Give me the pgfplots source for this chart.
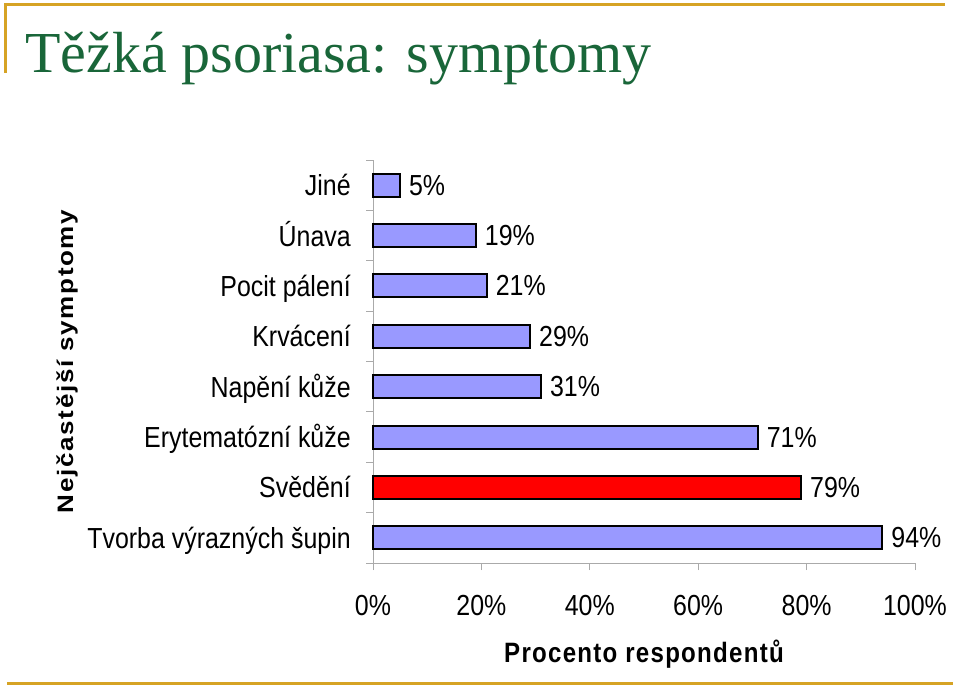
\documentclass[border=0pt]{standalone}
\usepackage{fontspec}
\usepackage{graphicx}
\usepackage{pgfplots}
\pgfplotsset{compat=1.18}
\setmainfont{Liberation Sans}
\newfontfamily\lab{Liberation Sans}[FakeStretch=0.86]
\newfontfamily\xlabfont{Liberation Sans}[FakeStretch=0.86,LetterSpace=4.5]
\newfontfamily\ylabfont{Liberation Sans}[LetterSpace=6.5]
\newfontfamily\titlefont{Liberation Serif}
\definecolor{gold}{RGB}{214,163,36}
\definecolor{ttl}{RGB}{25,102,57}
\definecolor{barblue}{RGB}{153,153,255}
\definecolor{axgray}{RGB}{170,170,170}
\begin{document}
\begin{tikzpicture}
\path[use as bounding box] (0,0) rectangle (720pt,515.25pt);
\fill[white] (0,0) rectangle (720pt,515.25pt);
\draw[gold, line width=2.25pt] (3.75pt,460.5pt) -- (3.75pt,511.5pt) -- (708.75pt,511.5pt);
\draw[gold, line width=2.25pt] (5.25pt,2.6pt) -- (715pt,2.6pt);
\node[anchor=base west, inner sep=0pt, text=ttl, font=\titlefont\fontsize{43.5pt}{50pt}\selectfont] at (18.75pt,460.5pt) {Těžká psoriasa: symptomy};
\begin{axis}[
  at={(279.75pt,93pt)}, anchor=south west, scale only axis,
  width=406.5pt, height=302.25pt,
  xbar, bar width=17.25pt, bar shift=0pt,
  xmin=0, xmax=100, ymin=-0.5, ymax=7.5,
  axis x line*=bottom, axis y line*=left,
  axis line style={draw=axgray, line width=0.75pt, -},
  xtick={0,20,40,60,80,100},
  xticklabels={0\%,20\%,40\%,60\%,80\%,100\%},
  minor xtick={0,20,40,60,80,100},
  ytick={0,1,2,3,4,5,6,7},
  yticklabels={Tvorba výrazných šupin,Svědění,Erytematózní kůže,Napění kůže,Krvácení,Pocit pálení,Únava,Jiné},
  minor ytick={-0.5,0.5,1.5,2.5,3.5,4.5,5.5,6.5,7.5},
  major tick length=0pt, minor tick length=5.25pt, tick align=outside,
  tick style={draw=axgray, line width=0.75pt},
  x tick label style={font=\lab\fontsize{21.75pt}{24pt}\selectfont, anchor=base, inner sep=0pt, yshift=-39pt},
  y tick label style={font=\lab\fontsize{21.75pt}{24pt}\selectfont, anchor=base east, inner sep=0pt, xshift=-16.5pt, yshift=-7.9pt},
  xlabel={Procento respondentů},
  ylabel={\scalebox{1}[0.86]{Nejčastější symptomy}},
  xlabel style={at={(axis description cs:0.5,-0.2457)}, anchor=base, inner sep=0pt, font=\xlabfont\bfseries\fontsize{21pt}{24pt}\selectfont},
  ylabel style={at={(axis description cs:-0.5535,0.5)}, anchor=base, inner sep=0pt, font=\ylabfont\bfseries\fontsize{19.5pt}{22pt}\selectfont},
  point meta=x,
  nodes near coords={\pgfmathprintnumber[assume math mode=true]{\pgfplotspointmeta}\%},
  nodes near coords style={font=\lab\fontsize{21.75pt}{24pt}\selectfont, anchor=west, inner sep=0pt, xshift=6pt, text=black},
  clip=false,
]
\addplot[draw=black, fill=barblue, line width=1.5pt] coordinates {(94,0) (71,2) (31,3) (29,4) (21,5) (19,6) (5,7)};
\addplot[draw=black, fill=red, line width=1.5pt] coordinates {(79,1)};
\end{axis}
\end{tikzpicture}
\end{document}
